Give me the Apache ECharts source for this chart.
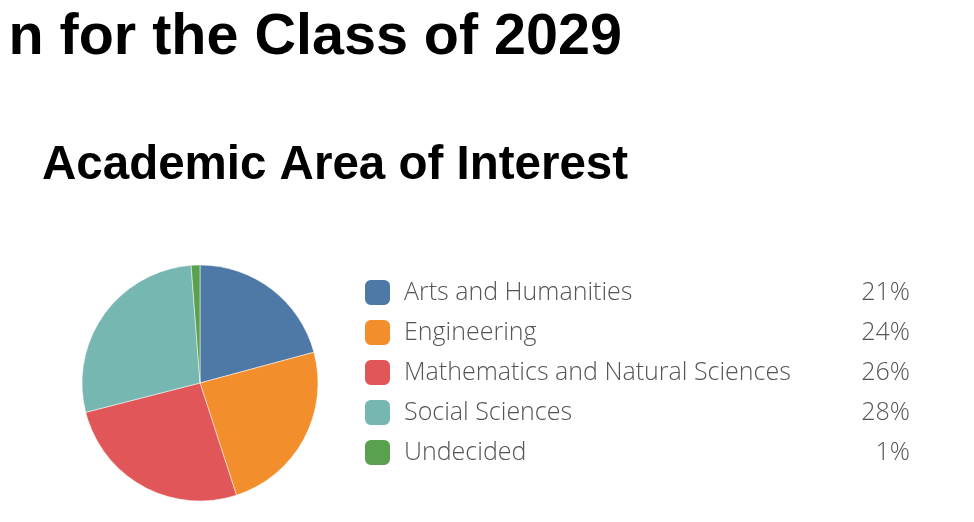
<!DOCTYPE html>
<html>
<head>
<meta charset="utf-8">
<script src="https://cdn.jsdelivr.net/npm/echarts@6/dist/echarts.min.js"></script>
<style>
html,body{margin:0;padding:0;background:#fff;}
#c{width:974px;height:522px;}
</style>
</head>
<body>
<div id="c"></div>
<script>
var mainTitle = "n for the Class of 2029";
var subTitle = "Academic Area of Interest";
var categories = ["Arts and Humanities", "Engineering", "Mathematics and Natural Sciences", "Social Sciences", "Undecided"];
var shares = [20.8, 24.2, 26.0, 27.8, 1.2];
var shareLabels = ["21%", "24%", "26%", "28%", "1%"];
var colors = ["#4e79a7", "#f28e2b", "#e15759", "#76b7b2", "#59a14f"];

var chart = echarts.init(document.getElementById('c'), null, {renderer: 'canvas'});
var pieData = categories.map(function (c, i) {
  return {name: c, value: shares[i], itemStyle: {color: colors[i]}};
});
var labelOf = {};
categories.forEach(function (c, i) { labelOf[c] = shareLabels[i]; });

chart.setOption({
  animation: false,
  backgroundColor: '#ffffff',
  graphic: [
    {type: 'text', x: 622, y: 9, style: {text: mainTitle, font: 'bold 57.5px "Liberation Sans", Arial, sans-serif', fill: '#000', textAlign: 'right', textVerticalAlign: 'top'}},
    {type: 'text', x: 42, y: 142, style: {text: subTitle, font: 'bold 47.5px "Liberation Sans", Arial, sans-serif', fill: '#000', textAlign: 'left', textVerticalAlign: 'top'}}
  ],
  legend: {
    orient: 'vertical',
    left: 363,
    top: 278,
    itemWidth: 27,
    itemHeight: 27,
    itemGap: 11,
    icon: 'roundRect',
    selectedMode: false,
    padding: 0,
    data: categories,
    formatter: function (name) {
      return '{n|' + name + '}{p|' + labelOf[name] + '}';
    },
    textStyle: {
      lineHeight: 27,
      height: 27,
      rich: {
        n: {fontFamily: 'Open Sans', fontSize: 25, fontWeight: 300, color: '#555', width: 446, height: 27, lineHeight: 27, padding: [0, 0, 0, 8]},
        p: {fontFamily: 'Open Sans', fontSize: 25, fontWeight: 300, color: '#555', width: 60, height: 27, lineHeight: 27, align: 'right'}
      }
    }
  },
  series: [{
    type: 'pie',
    center: [200, 383],
    radius: [0, 118],
    startAngle: 90,
    clockwise: true,
    label: {show: false},
    labelLine: {show: false},
    emphasis: {disabled: true},
    itemStyle: {borderColor: '#fff', borderWidth: 0.5},
    data: pieData
  }]
});
</script>
</body>
</html>
